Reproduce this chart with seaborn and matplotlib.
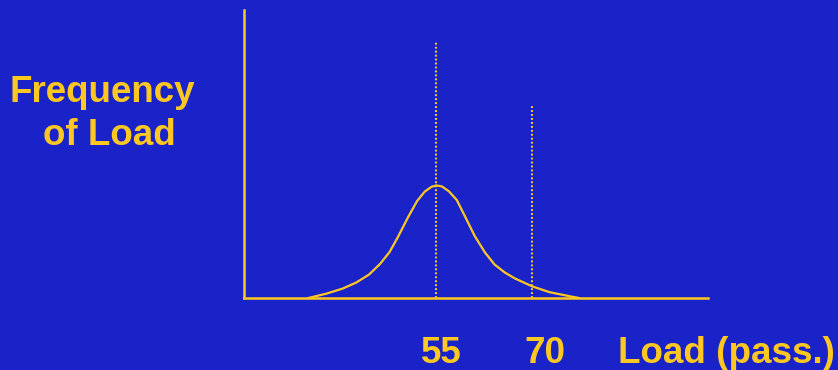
import pandas as pd
import matplotlib
matplotlib.use("Agg")
import matplotlib.pyplot as plt
import seaborn as sns

# load values (passengers) and relative frequency
load = [35.0, 37.8, 40.4, 42.5, 44.5, 46.2, 47.7, 49.0, 50.6, 52.0, 53.2,
        54.25, 55.0, 55.9, 57.0, 58.2, 59.45, 61.0, 62.6, 64.1, 65.7, 67.3,
        70.0, 72.7, 75.8, 77.3]
freq = [0, 4.3, 9.5, 15.5, 23.5, 34.0, 46.0, 61.0, 81.0, 97.0, 106.5,
        111.2, 112.6, 111.5, 106.5, 98.0, 82.0, 62.0, 45.5, 33.5, 25.5, 19.5,
        11.6, 5.8, 1.8, 0]

marks = [55, 70]
mark_tops = [256, 192]
mark_labels = ["55", "70"]

bg = "#1a23c8"
yellow = "#ffc820"

sns.set_theme(style="white")
plt.rcParams["font.family"] = ["Liberation Sans", "DejaVu Sans"]

df = pd.DataFrame({"load": load, "freq": freq})

fig = plt.figure(figsize=(8.38, 3.7), dpi=100, facecolor=bg)
ax = fig.add_axes([244 / 838, 72 / 370, 464 / 838, 288.5 / 370])
ax.set_facecolor(bg)

sns.lineplot(data=df, x="load", y="freq", ax=ax, color=yellow, linewidth=1.6,
             clip_on=False)

for m, top in zip(marks, mark_tops):
    ax.plot([m, m], [0, top], color=yellow, linewidth=1.5,
            linestyle=(0, (0.9, 1.0)))

ax.set_xlim(24.95, 97.45)
ax.set_ylim(0, 288.5)
ax.set_xticks([])
ax.set_yticks([])
ax.set_xlabel("")
ax.set_ylabel("")
for side in ["top", "right"]:
    ax.spines[side].set_visible(False)
for side in ["left", "bottom"]:
    ax.spines[side].set_color(yellow)
    ax.spines[side].set_linewidth(1.8)

fs = 26.5
txt = dict(color=yellow, fontsize=fs, fontweight="bold", va="baseline")

# tick-like labels under the axis
fig.text(441 / 838, 1 - 363 / 370, mark_labels[0], ha="center", **txt)
fig.text(545 / 838, 1 - 363 / 370, mark_labels[1], ha="center", **txt)
fig.text(618 / 838, 1 - 363 / 370, "Load (pass.)", ha="left", **txt)

# y axis title
fig.text(102.5 / 838, 1 - 102 / 370, "Frequency", ha="center", **txt)
fig.text(109 / 838, 1 - 145 / 370, "of Load", ha="center", **txt)

fig.savefig("out.png", dpi=100, facecolor=bg)
